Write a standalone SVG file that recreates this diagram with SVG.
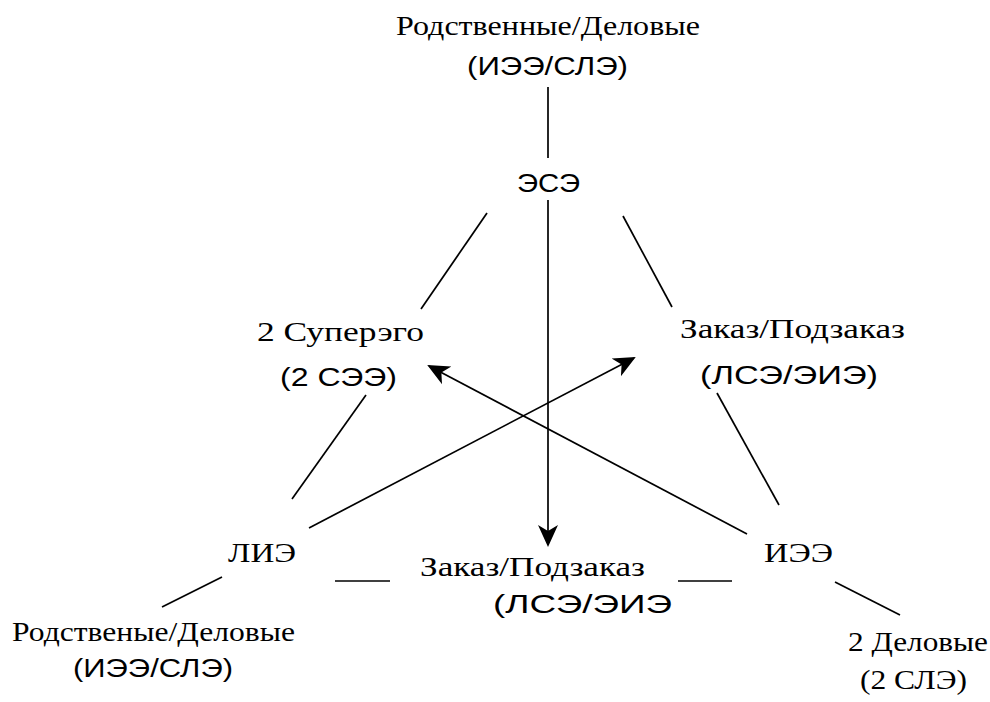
<svg xmlns="http://www.w3.org/2000/svg" width="990" height="702" viewBox="0 0 990 702">
<style>
.s{font-family:"Liberation Serif","DejaVu Serif",serif;font-size:27px;fill:#000}
.a{font-family:"Liberation Sans","DejaVu Sans",sans-serif;font-size:26px;fill:#000}
.l{stroke:#000;stroke-width:1.7;fill:none}
</style>
<defs>
<marker id="ah" viewBox="0 0 22 22" refX="20" refY="11" markerWidth="22" markerHeight="22" markerUnits="userSpaceOnUse" orient="auto">
<path d="M0,1 L22,11 L0,21 L6,11 z" fill="#000"/>
</marker>
</defs>
<rect width="990" height="702" fill="#fff"/>
<g id="connectors">
<line class="l" x1="548" y1="87" x2="548" y2="158"/>
<line class="l" x1="487" y1="213" x2="421" y2="309"/>
<line class="l" x1="623" y1="216" x2="672" y2="307"/>
<line class="l" x1="366" y1="395" x2="292" y2="499"/>
<line class="l" x1="717" y1="393" x2="779" y2="505"/>
<line class="l" x1="335" y1="581" x2="390" y2="581"/>
<line class="l" x1="678" y1="581" x2="732" y2="581"/>
<line class="l" x1="162" y1="607" x2="222" y2="577"/>
<line class="l" x1="835" y1="582" x2="900" y2="615"/>
<line class="l" x1="548" y1="200" x2="548" y2="545" marker-end="url(#ah)"/>
<line class="l" x1="309" y1="528" x2="634" y2="358" marker-end="url(#ah)"/>
<line class="l" x1="747" y1="534" x2="429" y2="366" marker-end="url(#ah)"/>
</g>
<g id="top">
<text class="s" x="396" y="35" textLength="304" lengthAdjust="spacingAndGlyphs">Родственные/Деловые</text>
<text class="a" x="467" y="75" textLength="161" lengthAdjust="spacingAndGlyphs">(ИЭЭ/СЛЭ)</text>
</g>
<g id="ese">
<text class="a" x="517" y="192" textLength="63" lengthAdjust="spacingAndGlyphs">ЭСЭ</text>
</g>
<g id="superego">
<text class="s" x="257" y="341" textLength="167" lengthAdjust="spacingAndGlyphs">2 Суперэго</text>
<text class="a" x="280" y="386" textLength="117" lengthAdjust="spacingAndGlyphs">(2 СЭЭ)</text>
</g>
<g id="zakaz-right">
<text class="s" x="680" y="338" textLength="225" lengthAdjust="spacingAndGlyphs">Заказ/Подзаказ</text>
<text class="a" x="700" y="384" textLength="178" lengthAdjust="spacingAndGlyphs">(ЛСЭ/ЭИЭ)</text>
</g>
<g id="lie">
<text class="s" x="228" y="562" textLength="68" lengthAdjust="spacingAndGlyphs">ЛИЭ</text>
</g>
<g id="zakaz-bottom">
<text class="s" x="420" y="576" textLength="225" lengthAdjust="spacingAndGlyphs">Заказ/Подзаказ</text>
<text class="a" x="493" y="613" textLength="179" lengthAdjust="spacingAndGlyphs">(ЛСЭ/ЭИЭ</text>
</g>
<g id="iee">
<text class="s" x="764" y="562" textLength="69" lengthAdjust="spacingAndGlyphs">ИЭЭ</text>
</g>
<g id="bottom-left">
<text class="s" x="12" y="641" textLength="283" lengthAdjust="spacingAndGlyphs">Родственые/Деловые</text>
<text class="a" x="73" y="677" textLength="160" lengthAdjust="spacingAndGlyphs">(ИЭЭ/СЛЭ)</text>
</g>
<g id="bottom-right">
<text class="s" x="848" y="651" textLength="140" lengthAdjust="spacingAndGlyphs">2 Деловые</text>
<text class="s" x="860" y="689" textLength="107" lengthAdjust="spacingAndGlyphs">(2 СЛЭ)</text>
</g>
</svg>
